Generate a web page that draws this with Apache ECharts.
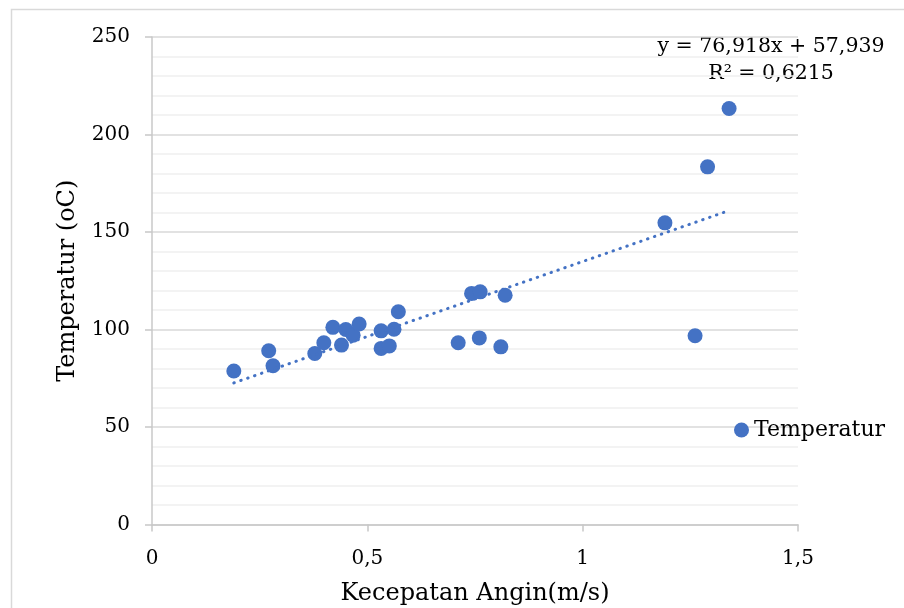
<!DOCTYPE html>
<html>
<head>
<meta charset="utf-8">
<script src="https://cdn.jsdelivr.net/npm/echarts@6/dist/echarts.min.js"></script>
<style>
  html, body { margin: 0; padding: 0; background: #fff; }
  #chart { width: 904px; height: 608px; }
</style>
</head>
<body>
<div id="chart"></div>
<script>
// kecepatan angin (m/s) dan temperatur (oC)
const windSpeed = [0.190, 0.271, 0.281, 0.378, 0.399, 0.420, 0.440, 0.450, 0.467, 0.481,
  0.532, 0.532, 0.551, 0.562, 0.572, 0.711, 0.742, 0.762, 0.760, 0.810,
  0.820, 1.191, 1.290, 1.340, 1.261]
const temperature = [78.7, 89.1, 81.4, 87.7, 93.2, 101.1, 92.0, 100.0, 97.1, 102.8,
  99.3, 90.3, 91.6, 100.1, 109.1, 93.2, 118.5, 119.3, 95.7, 91.1,
  117.6, 154.7, 183.4, 213.3, 96.8]
// ujung garis tren (linear)
const trendX = [0.19, 1.34]
const trendY = [72.6, 161.0]
const equationText = 'y = 76,918x + 57,939\nR² = 0,6215'
const seriesName = 'Temperatur'

const FONT = '"DejaVu Serif", "Liberation Serif", serif'
const BLUE = '#4472C4'

const myChart = echarts.init(document.getElementById('chart'))

const option = {
  animation: false,
  textStyle: { fontFamily: FONT },
  grid: {
    left: 152,
    right: 106,
    top: 37,
    bottom: 83.5,
    containLabel: false,
    outerBoundsMode: 'none'
  },
  legend: {
    data: [seriesName],
    left: 729,
    top: 414,
    icon: 'circle',
    itemWidth: 15,
    itemHeight: 15,
    itemGap: 6,
    textStyle: { fontFamily: FONT, fontSize: 22, color: '#000' }
  },
  xAxis: {
    type: 'value',
    min: 0,
    max: 1.5,
    interval: 0.5,
    name: 'Kecepatan Angin(m/s)',
    nameLocation: 'middle',
    nameGap: 57,
    nameTextStyle: { fontFamily: FONT, fontSize: 24, color: '#000' },
    axisLine: { show: true, lineStyle: { color: '#c8c8c8', width: 1.5 } },
    axisTick: { show: true, inside: false, length: 7, lineStyle: { color: '#c8c8c8', width: 1.5 } },
    splitLine: { show: false },
    axisLabel: {
      margin: 24,
      fontFamily: FONT,
      fontSize: 20,
      color: '#000',
      formatter: function (v) { return String(v).replace('.', ',') }
    }
  },
  yAxis: {
    type: 'value',
    min: 0,
    max: 250,
    interval: 50,
    name: 'Temperatur (oC)',
    nameLocation: 'middle',
    nameRotate: 90,
    nameGap: 72,
    nameTextStyle: { fontFamily: FONT, fontSize: 24, color: '#000' },
    axisLine: { show: true, lineStyle: { color: '#c8c8c8', width: 1.5 } },
    axisTick: { show: true, inside: false, length: 7, lineStyle: { color: '#c8c8c8', width: 1.5 } },
    minorTick: { show: false, splitNumber: 5 },
    splitLine: { show: true, lineStyle: { color: '#d9d9d9', width: 1.5 } },
    minorSplitLine: { show: true, lineStyle: { color: '#f0f0f0', width: 1.5 } },
    axisLabel: {
      margin: 22,
      fontFamily: FONT,
      fontSize: 20,
      color: '#000'
    }
  },
  series: [
    {
      name: seriesName,
      type: 'scatter',
      symbol: 'circle',
      symbolSize: 15,
      itemStyle: { color: BLUE, opacity: 1 },
      data: windSpeed.map((x, i) => [x, temperature[i]]),
      z: 2
    },
    {
      name: 'trend',
      type: 'line',
      symbol: 'none',
      silent: true,
      lineStyle: { color: BLUE, width: 3, type: [0.5, 6.8], cap: 'round' },
      data: trendX.map((x, i) => [x, trendY[i]]),
      z: 3
    }
  ],
  graphic: [
    {
      type: 'rect',
      left: 9,
      top: 7,
      shape: { width: 920, height: 640 },
      style: { fill: 'none', stroke: '#d9d9d9', lineWidth: 1.5 },
      silent: true
    },
    {
      // kotak label persamaan (latar putih menutupi garis grid)
      type: 'group',
      z: 100,
      children: [
        {
          type: 'rect',
          shape: { x: 654, y: 34, width: 234, height: 54 },
          style: { fill: '#fff' }
        },
        {
          type: 'text',
          x: 771,
          y: 33,
          style: {
            text: equationText,
            font: '20.5px ' + FONT,
            fill: '#000',
            textAlign: 'center',
            lineHeight: 27
          }
        }
      ]
    }
  ]
}
myChart.setOption(option)
</script>
</body>
</html>
